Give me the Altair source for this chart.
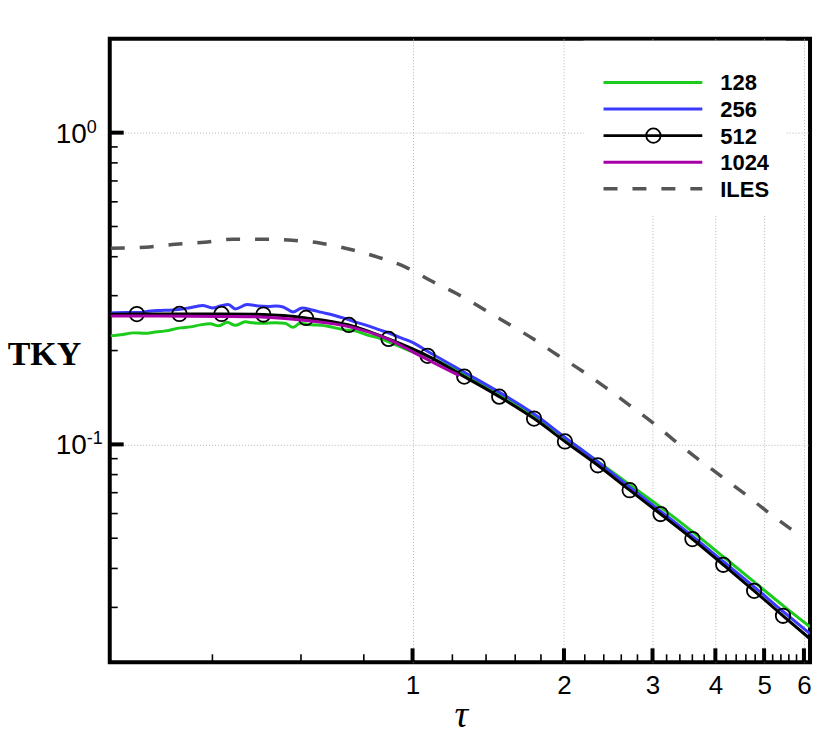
import altair as alt
import pandas as pd

# ---------------- data ----------------
tau_128 = [0.2512, 0.2629, 0.2790, 0.2946, 0.3056, 0.3228, 0.3455, 0.3618, 0.3786, 0.3963,
           0.4111, 0.4282, 0.4441, 0.4649, 0.4822, 0.5023, 0.5329, 0.5578, 0.5786, 0.5975,
           0.6310, 0.6604, 0.6943, 0.7334, 0.7676, 0.8107, 0.8603, 0.9004, 0.9425, 1.0,
           1.0707, 1.2676, 1.4868, 1.7444, 2.0091, 2.3352, 2.7025, 3.1117, 3.6012, 4.1485,
           4.7778, 5.4537, 6.167]
tky_128 = [0.2229, 0.2246, 0.2279, 0.2271, 0.2288, 0.2313, 0.2365, 0.2382, 0.2418, 0.2436,
           0.2400, 0.2463, 0.2409, 0.2472, 0.2454, 0.2445, 0.2454, 0.2445, 0.2374, 0.2445,
           0.2418, 0.2409, 0.2374, 0.2330, 0.2313, 0.2246, 0.2189, 0.2125, 0.2063, 0.1981,
           0.1917, 0.1674, 0.1450, 0.1238, 0.1049, 0.0882, 0.0742, 0.0629, 0.0525, 0.0436,
           0.0362, 0.0304, 0.0260]

tau_256 = [0.2512, 0.2690, 0.2854, 0.3015, 0.3155, 0.3332, 0.3487, 0.3584, 0.3718, 0.3821,
           0.3999, 0.4148, 0.4302, 0.4441, 0.4692, 0.4933, 0.5163, 0.5354, 0.5528, 0.5786,
           0.6031, 0.6310, 0.6604, 0.6943, 0.7334, 0.7676, 0.8107, 0.8603, 0.9004, 0.9425,
           1.0, 1.0707, 1.2676, 1.4868, 1.7444, 2.0091, 2.3352, 2.7025, 3.1117, 3.6012,
           4.1485, 4.7778, 5.4537, 6.167]
tky_256 = [0.2641, 0.2647, 0.2647, 0.2680, 0.2690, 0.2700, 0.2720, 0.2740, 0.2770, 0.2790,
           0.2740, 0.2780, 0.2811, 0.2720, 0.2811, 0.2780, 0.2770, 0.2780, 0.2760, 0.2660,
           0.2740, 0.2700, 0.2651, 0.2602, 0.2536, 0.2472, 0.2409, 0.2330, 0.2271, 0.2205,
           0.2125, 0.1989, 0.1704, 0.1471, 0.1252, 0.1053, 0.0879, 0.0729, 0.0611, 0.0508,
           0.0421, 0.0349, 0.0291, 0.0247]

tau_512 = [0.2512, 0.283, 0.344, 0.417, 0.505, 0.614, 0.747, 0.896, 1.071, 1.267,
           1.487, 1.744, 2.009, 2.335, 2.702, 3.112, 3.601, 4.147, 4.777, 5.452, 6.167]
tky_512 = [0.2615, 0.2618, 0.2621, 0.2621, 0.2610, 0.2545, 0.2417, 0.2180, 0.1924, 0.1650,
           0.1423, 0.1210, 0.1022, 0.0857, 0.0713, 0.0598, 0.0497, 0.0411, 0.0339, 0.0282, 0.0238]

tau_1024 = [0.2512, 0.3155, 0.4148, 0.4977, 0.614, 0.750, 0.900, 1.009, 1.131, 1.239]
tky_1024 = [0.2583, 0.2583, 0.2574, 0.2564, 0.2499, 0.2382, 0.2165, 0.1967, 0.1788, 0.1661]

tau_iles = [0.2512, 0.2946, 0.3378, 0.3856, 0.4400, 0.5047, 0.5760, 0.6574, 0.7501, 0.8526,
            0.9686, 1.0905, 1.2279, 1.3822, 1.5495, 1.7364, 1.9372, 2.1704, 2.4225, 2.6901,
            3.0010, 3.3327, 3.7008, 4.1111, 4.5853, 5.0923, 5.6554, 5.84]
tky_iles = [0.4259, 0.4291, 0.4387, 0.4452, 0.4550, 0.4550, 0.4518, 0.4419, 0.4228, 0.3987,
            0.3705, 0.3342, 0.3037, 0.2720, 0.2436, 0.2182, 0.1939, 0.1723, 0.1521, 0.1342,
            0.1175, 0.1022, 0.0896, 0.0790, 0.0692, 0.0606, 0.0535, 0.0516]

series_names = ["128", "256", "512", "1024", "ILES"]
series_colors = ["#1ccb1c", "#3a3aff", "#000000", "#a800a8", "#555555"]

x_major = [1, 2, 3, 4, 5, 6]
x_minor = [0.4, 0.6, 0.8, 1.2, 1.4, 1.6, 1.8, 2.2, 2.4, 2.6, 2.8, 3.2, 3.4, 3.6, 3.8,
           4.2, 4.4, 4.6, 4.8, 5.2, 5.4, 5.6, 5.8]
y_major = [0.1, 1.0]
y_minor = [0.03, 0.04, 0.05, 0.06, 0.07, 0.08, 0.09, 0.2, 0.3, 0.4, 0.5, 0.6, 0.7, 0.8, 0.9]
y_label_base = ["10", "10"]
y_label_exp = ["-1", "0"]

# ---------------- layout ----------------
W, H = 702, 625

x_scale = alt.Scale(type="log", domain=[0.25, 6.17], nice=False)
y_scale = alt.Scale(type="log", domain=[0.02, 2.0], nice=False)

GRID = dict(grid=True, gridColor="#b5b5b5", gridDash=[1, 2], gridWidth=1)

X_AX = alt.Axis(values=x_major, format="~g", ticks=False, domain=False,
                labelFont="Liberation Sans", labelFontSize=26, labelColor="black",
                labelPadding=10, labelFlush=False, labelOverlap=False,
                title="τ", titleFont="Liberation Serif", titleFontStyle="italic",
                titleFontSize=38, titleFontWeight="normal", titleColor="black",
                titleX=352, titleY=64, titleBaseline="alphabetic", titleAlign="center",
                **GRID)
Y_AX = alt.Axis(values=y_major, labels=False, ticks=False, domain=False,
                title="TKY", titleFont="Liberation Serif", titleFontWeight="bold",
                titleFontSize=34, titleColor="black", titleAngle=0,
                titleX=-66, titleY=326, titleBaseline="alphabetic", titleAlign="center",
                **GRID)


def X(field):
    return alt.X(field, type="quantitative", scale=x_scale, axis=X_AX)


def Y(field):
    return alt.Y(field, type="quantitative", scale=y_scale, axis=Y_AX)


layers = []

# tick marks (inward)
ymaj = pd.DataFrame({"v": y_major})
ymin = pd.DataFrame({"v": y_minor})
xmaj = pd.DataFrame({"v": x_major})
xmin = pd.DataFrame({"v": x_minor})

layers.append(alt.Chart(ymaj).mark_rule(color="black", strokeWidth=4, strokeCap="butt").encode(
    y=Y("v"), x=alt.value(0), x2=alt.value(14)))
layers.append(alt.Chart(ymin).mark_rule(color="black", strokeWidth=1.6, strokeCap="butt").encode(
    y=Y("v"), x=alt.value(0), x2=alt.value(8)))
layers.append(alt.Chart(xmaj).mark_rule(color="black", strokeWidth=4, strokeCap="butt").encode(
    x=X("v"), y=alt.value(H), y2=alt.value(H - 14)))
layers.append(alt.Chart(xmin).mark_rule(color="black", strokeWidth=1.6, strokeCap="butt").encode(
    x=X("v"), y=alt.value(H), y2=alt.value(H - 8)))

# y tick labels 10^n
ylab = pd.DataFrame({"v": y_major, "base": y_label_base, "exp": y_label_exp})
layers.append(alt.Chart(ylab).mark_text(align="right", baseline="alphabetic", dy=10,
                                        font="Liberation Sans", fontSize=28, color="black").encode(
    y=Y("v"), x=alt.value(-23), text="base:N"))
layers.append(alt.Chart(ylab).mark_text(align="left", baseline="alphabetic", dy=0,
                                        font="Liberation Sans", fontSize=18, color="black").encode(
    y=Y("v"), x=alt.value(-23), text="exp:N"))

# white legend background
layers.append(alt.Chart(pd.DataFrame({"a": [0]})).mark_rect(color="white").encode(
    x=alt.value(475), x2=alt.value(678), y=alt.value(2), y2=alt.value(177)))

# data lines
data_sets = [(tau_128, tky_128), (tau_256, tky_256), (tau_512, tky_512),
             (tau_1024, tky_1024), (tau_iles, tky_iles)]
for name, col, (tx, ty) in zip(series_names, series_colors, data_sets):
    df = pd.DataFrame({"tau": tx, "tky": ty})
    kw = dict(color=col, strokeWidth=3, clip=True, interpolate="monotone")
    if name == "ILES":
        kw.update(strokeDash=[14, 15], strokeWidth=3.5, strokeCap="butt")
    layers.append(alt.Chart(df).mark_line(**kw).encode(x=X("tau"), y=Y("tky")))
    if name == "512":
        mdf = pd.DataFrame({"tau": tx[1:-1], "tky": ty[1:-1]})
        layers.append(alt.Chart(mdf).mark_point(shape="circle", filled=False, size=210,
                                                strokeWidth=1.8, color="black", opacity=1,
                                                clip=True).encode(x=X("tau"), y=Y("tky")))

# legend
for i, (name, col) in enumerate(zip(series_names, series_colors)):
    ypx = 43.7 + 26.67 * i
    kw = dict(color=col, strokeWidth=3, strokeCap="butt")
    if name == "ILES":
        kw.update(strokeDash=[14, 15], strokeWidth=3.5)
    one = pd.DataFrame({"label": [name]})
    layers.append(alt.Chart(one).mark_rule(**kw).encode(
        x=alt.value(495), x2=alt.value(594), y=alt.value(ypx)))
    if name == "512":
        layers.append(alt.Chart(one).mark_point(shape="circle", filled=False, size=210,
                                                strokeWidth=1.8, color="black", opacity=1).encode(
            x=alt.value(545), y=alt.value(ypx)))
    layers.append(alt.Chart(one).mark_text(align="left", baseline="middle", font="Liberation Sans",
                                           fontSize=22, fontWeight="bold", color="black").encode(
        x=alt.value(612), y=alt.value(ypx + 1), text="label:N"))

chart = alt.layer(*layers).properties(
    width=W, height=H,
    autosize=alt.AutoSizeParams(type="none"),
    padding={"left": 102, "top": 30, "right": 12, "bottom": 74},
    background="white",
).configure_view(stroke="black", strokeWidth=4)

chart.save("out.html", embed_options={"renderer": "svg", "actions": False})
